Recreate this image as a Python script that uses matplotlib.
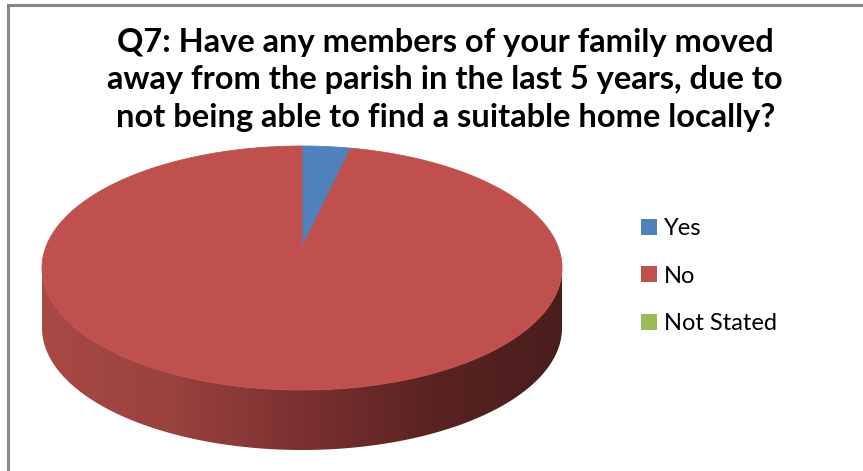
"""3D-style pie of Q7 responses: family members moving away from the parish."""

import matplotlib.pyplot as plt
import numpy as np
from matplotlib.colors import LinearSegmentedColormap
from matplotlib.patches import Patch, Polygon


labels = ['Yes', 'No', 'Not Stated']
values = [3, 97, 0]
colors = ['#4F81BD', '#C0504D', '#9BBB59']
title = ('Q7: Have any members of your family moved\n'
         'away from the parish in the last 5 years, due to\n'
         'not being able to find a suitable home locally?')

# pie geometry in pixel space (y grows downward)
cx, cy = 302, 268
rx, ry = 260, 122
depth = 60
apex_y = cy - 21

fig = plt.figure(figsize=(8.63, 4.71), dpi=100)
ax = fig.add_axes([0, 0, 1, 1])
ax.set_xlim(0, 863)
ax.set_ylim(471, 0)
ax.axis('off')


def rim(theta):
    # theta measured clockwise from 12 o'clock
    return cx + rx * np.sin(theta), cy - ry * np.cos(theta)


# front wall of the cylinder, shaded left to right
front = np.linspace(np.pi / 2, 3 * np.pi / 2, 200)
fx, fy = rim(front)
wall = np.column_stack([
    np.concatenate([fx, fx[::-1]]),
    np.concatenate([fy, fy[::-1] + depth]),
])
wall_patch = Polygon(wall, closed=True, facecolor='none', edgecolor='none')
ax.add_patch(wall_patch)
shade = LinearSegmentedColormap.from_list(
    'wall', ['#4A1D1D', '#5A2322', '#7A3130', '#9A423E', '#A84945'])
grad = np.linspace(0, 1, 256)[None, :][:, ::-1]
img = ax.imshow(grad, cmap=shade, aspect='auto',
                extent=[cx - rx, cx + rx, cy + ry + depth, cy - ry],
                interpolation='bilinear', zorder=1)
img.set_clip_path(wall_patch)

# top face: one wedge per category
total = sum(values)
start = 0.0
for value, color in zip(values, colors):
    if value == 0:
        continue
    sweep = value / total * 2 * np.pi
    theta = np.linspace(start, start + sweep, max(int(sweep * 60), 4))
    px, py = rim(theta)
    pts = np.column_stack([np.r_[cx, px], np.r_[apex_y, py]])
    ax.add_patch(Polygon(pts, closed=True, facecolor=color,
                         edgecolor=color, linewidth=0.6, zorder=2))
    start += sweep

# chart frame (top and left edges only)
ax.plot([7.5, 7.5, 863], [471, 4.5, 4.5], color='#868686', linewidth=2.2,
        solid_joinstyle='miter', zorder=3)

fig.text(0.516, 1 - 80 / 471, title, ha='center', va='center', fontsize=23.5,
         fontweight='bold', family='Lato', linespacing=1.36)

handles = [Patch(facecolor=c, edgecolor='none') for c in colors]
fig.legend(handles, labels, loc='upper left', bbox_to_anchor=(0.732, 0.557),
           frameon=False, prop={'family': 'Lato', 'size': 17},
           handlelength=0.65, handleheight=0.65, handletextpad=0.3,
           labelspacing=1.12, borderaxespad=0)

fig.savefig('out.png', dpi=100)
